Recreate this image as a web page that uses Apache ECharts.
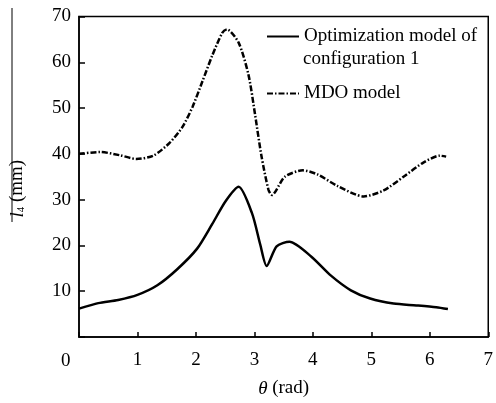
<!DOCTYPE html>
<html><head><meta charset="utf-8">
<script src="https://cdn.jsdelivr.net/npm/echarts@6/dist/echarts.min.js"></script>
<style>html,body{margin:0;padding:0;background:#fff}#c{width:496px;height:403px}</style>
</head><body><div id="c"></div>
<script>
var xTicks = [0,1,2,3,4,5,6,7];
var yTicks = [0,10,20,30,40,50,60,70];
var optX = [0,0.33,0.67,1.0,1.34,1.68,2.02,2.28,2.51,2.73,2.96,3.10,3.21,3.38,3.60,3.97,4.31,4.65,4.98,5.38,5.77,6.11,6.31];
var optY = [6.2,7.4,8.1,9.2,11.3,14.8,19.3,24.7,29.7,32.8,27.0,20.2,15.5,19.8,20.8,17.6,13.4,10.2,8.4,7.3,6.9,6.5,6.1];
var mdoX = [0,0.36,0.70,0.98,1.27,1.55,1.77,1.94,2.11,2.28,2.45,2.53,2.73,2.90,3.01,3.12,3.24,3.30,3.52,3.83,4.08,4.42,4.87,5.21,5.55,5.89,6.17,6.28];
var mdoY = [40.0,40.4,39.7,38.9,39.6,42.4,45.9,50.2,55.8,61.5,66.4,67.2,64.3,57.2,48.7,39.6,32.2,31.0,35.0,36.4,35.5,33.0,30.7,32.0,35.0,38.1,39.6,39.4];
var optName = 'Optimization model of';
var optName2 = 'configuration 1';
var mdoName = 'MDO model';

function pairs(xs, ys){ return xs.map(function(x,i){return [x, ys[i]];}); }
var F = 'Liberation Serif';
var legendBase = {
  orient: 'vertical', left: 261, itemWidth: 32, itemHeight: 14,
  itemStyle: {opacity: 0},
  textStyle: {fontFamily: F, fontSize: 19, color: '#000'}
};
var chart = echarts.init(document.getElementById('c'));
chart.setOption({
  animation: false,
  grid: {left: 78.5, right: 3.5, top: 16.5, bottom: 56.5, show: true, borderColor: '#000', borderWidth: 1.5, backgroundColor: 'transparent'},
  legend: [
    Object.assign({}, legendBase, {top: 22, data: [optName],
      textStyle: {fontFamily: F, fontSize: 19, color: '#000', padding: [12, 0, 0, 0]}}),
    Object.assign({}, legendBase, {top: 79, data: [mdoName]})
  ],
  xAxis: {
    type: 'value', min: 0, max: 7, interval: 1,
    axisLine: {show: true, lineStyle: {color: '#000', width: 1.5}},
    axisTick: {show: true, inside: true, length: 5, lineStyle: {color: '#000', width: 1.5}},
    splitLine: {show: false},
    axisLabel: {fontFamily: F, fontSize: 19, color: '#000', margin: 14,
      formatter: function(v){ return v === 0 ? '' : String(v); }},
    name: '{i|θ} (rad)', nameLocation: 'middle', nameGap: 42,
    nameTextStyle: {fontFamily: F, fontSize: 19, color: '#000', rich: {i: {fontFamily: F, fontSize: 19, fontStyle: 'italic', color: '#000'}}}
  },
  yAxis: {
    type: 'value', min: 0, max: 70, interval: 10,
    axisLine: {show: true, lineStyle: {color: '#000', width: 1.5}},
    axisTick: {show: true, inside: true, length: 6, lineStyle: {color: '#000', width: 1.5}},
    splitLine: {show: false},
    axisLabel: {fontFamily: F, fontSize: 19, color: '#000', margin: 8,
      formatter: function(v){ return v === 0 ? '' : String(v); }},
    name: '{i|l}{s|4} (mm)', nameLocation: 'middle', nameGap: 52, nameRotate: 90,
    nameTextStyle: {fontFamily: F, fontSize: 19, color: '#000', padding: [0, 24, 0, 0],
      rich: {i: {fontFamily: F, fontSize: 19, fontStyle: 'italic', color: '#000'},
             s: {fontFamily: F, fontSize: 11, color: '#000', verticalAlign: 'bottom', padding: [8,0,0,0]}}}
  },
  graphic: [
    {type: 'text', left: 61, top: 352, style: {text: '0', font: '19px "Liberation Serif"', fill: '#000'}},
    {type: 'text', left: 303, top: 50, style: {text: optName2, font: '19px "Liberation Serif"', fill: '#000'}},
    {type: 'line', shape: {x1: 12, y1: 8, x2: 12, y2: 222}, style: {stroke: '#000', lineWidth: 1}}
  ],
  series: [
    {name: optName, type: 'line', data: pairs(optX, optY), smooth: 0.25, symbol: 'none',
     itemStyle: {color: '#000'}, lineStyle: {color: '#000', width: 2.5}},
    {name: mdoName, type: 'line', data: pairs(mdoX, mdoY), smooth: 0.25, symbol: 'none',
     itemStyle: {color: '#000'}, lineStyle: {color: '#000', width: 2.5, type: [6, 2, 1.5, 2]}}
  ]
});
</script></body></html>
